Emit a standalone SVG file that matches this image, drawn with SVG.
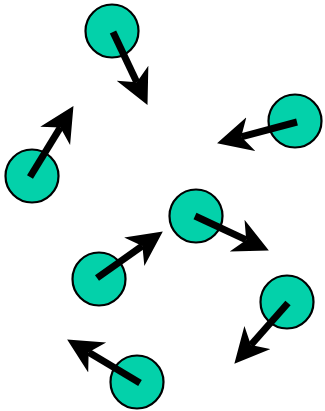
<svg xmlns="http://www.w3.org/2000/svg" width="325" height="411" viewBox="0 0 325 411">
<style>
.p{fill:#03d1aa;stroke:#000;stroke-width:2.2}
.a{stroke:#000;stroke-width:7;stroke-linecap:butt;fill:none;marker-end:url(#h)}
</style>
<defs>
<marker id="h" markerUnits="userSpaceOnUse" markerWidth="35" markerHeight="36" refX="10" refY="17.5" orient="auto">
<path d="M0,0 L35,17.5 L0,35 L10,17.5 Z" fill="#000"/>
</marker>
</defs>
<rect width="325" height="411" fill="#fff"/>
<g id="p1"><circle class="p" cx="112" cy="31" r="26.5"/></g>
<g id="p2"><circle class="p" cx="295" cy="121" r="26.5"/></g>
<g id="p3"><circle class="p" cx="32" cy="176" r="26.5"/></g>
<g id="p4"><circle class="p" cx="196" cy="216" r="26.5"/></g>
<g id="p5"><circle class="p" cx="99" cy="279" r="26.5"/></g>
<g id="p6"><circle class="p" cx="287" cy="302" r="26.5"/></g>
<g id="p7"><circle class="p" cx="137" cy="382" r="26.5"/></g>
<g id="connectors">
<line class="a" x1="113" y1="32" x2="136.8" y2="82.3"/>
<line class="a" x1="297" y1="122" x2="241.2" y2="136.8"/>
<line class="a" x1="30" y1="177" x2="60.4" y2="127.4"/>
<line class="a" x1="195" y1="216" x2="246.2" y2="239.9"/>
<line class="a" x1="97" y1="278" x2="142.4" y2="245.9"/>
<line class="a" x1="288" y1="303" x2="250.9" y2="345"/>
<line class="a" x1="140" y1="383" x2="88.6" y2="352.3"/>
</g>
</svg>
